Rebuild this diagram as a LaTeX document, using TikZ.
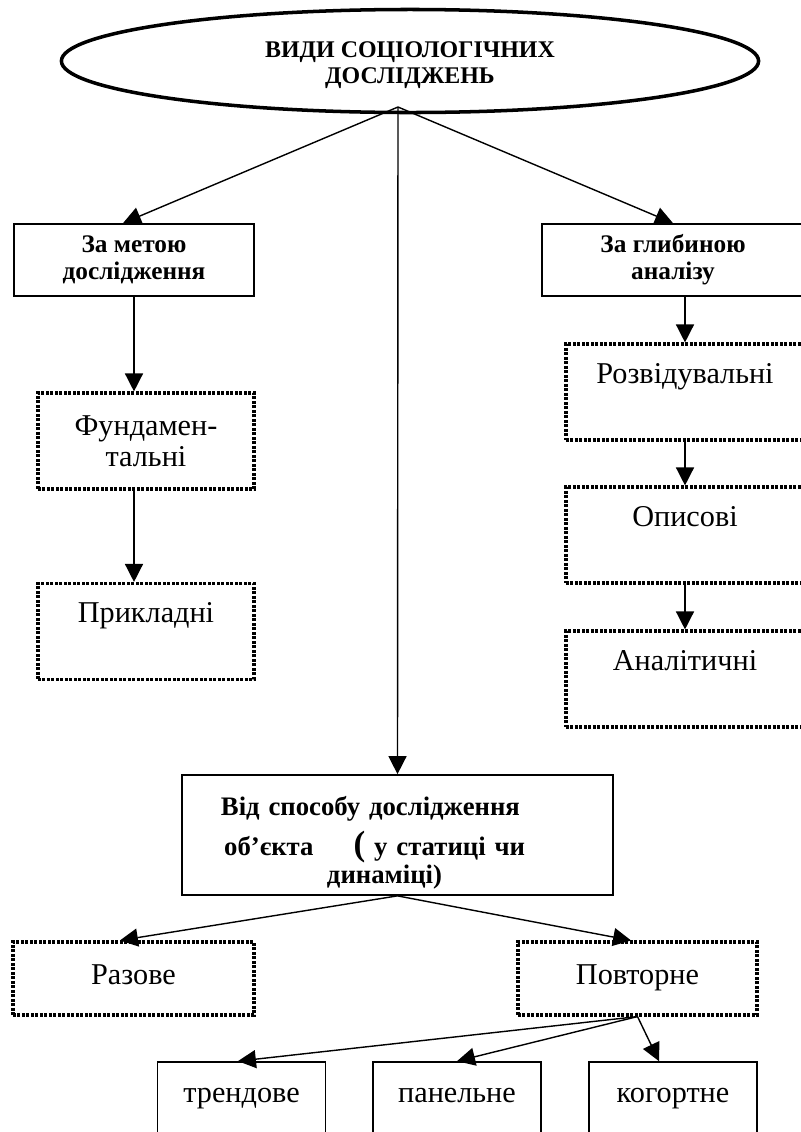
\documentclass[tikz,border=0pt]{standalone}
\usepackage{fontspec}
\setmainfont{Liberation Serif}
\usetikzlibrary{shapes.geometric,arrows.meta,positioning}

\begin{document}
\begin{tikzpicture}[
        x=0.025cm, y=-0.025cm,
        head/.style = {draw, ellipse, line width=2.5pt, inner sep=0pt, minimum width=17.425cm, minimum height=2.575cm, align=center, text height=1.2cm, text depth=0.1cm, font=\bfseries\fontsize{17}{18}\selectfont},
        solidbox/.style = {draw, rectangle, line width=1.2pt, inner sep=0pt},
        hdrbox/.style = {solidbox, minimum height=1.8cm, align=center, font=\bfseries\fontsize{18}{19}\selectfont},
        dotbox/.style = {draw, rectangle, line width=2.2pt, dash pattern=on 2pt off 1.2pt, inner sep=0pt, font=\fontsize{21.5}{22}\selectfont},
        tallbox/.style = {dotbox, text height=0.975cm, text depth=1.425cm},
        flatbox/.style = {dotbox, text height=1.05cm, text depth=0.775cm},
        lowbox/.style = {solidbox, minimum width=4.2cm, text height=1cm, text depth=1cm, font=\fontsize{21.5}{22}\selectfont},
        link/.style = {line width=1pt, -{Triangle[length=0.45cm, width=0.45cm]}},
        ]
        \useasboundingbox (0,0) rectangle (801,1132);
        \clip (0,0) rectangle (801,1132);
        \node[head] (root) at (410,61) {ВИДИ СОЦІОЛОГІЧНИХ\\ДОСЛІДЖЕНЬ};
        \coordinate (fork) at (398,107);
        \node[hdrbox, minimum width=6cm] (goal) at (134,260) {За метою\\дослідження};
        \node[hdrbox, minimum width=6.55cm] (depth) at (673,260) {За глибиною\\аналізу};
        \node[dotbox, minimum width=5.4cm, minimum height=2.4cm, align=center] (fund) at (146,441) {Фундамен-\\тальні};
        \node[tallbox, minimum width=5.4cm] (appl) at (146,631.5) {Прикладні};
        \node[tallbox, minimum width=5.95cm] (explor) at (685,392) {Розвідувальні};
        \node[tallbox, minimum width=5.95cm] (descr) at (685,535) {Описові};
        \node[tallbox, minimum width=5.95cm] (analyt) at (685,679) {Аналітичні};
        \node[solidbox, minimum width=10.775cm, text height=1cm, text depth=2cm, text width=8.825cm, inner xsep=0.975cm, align=left, font=\bfseries\fontsize{19}{20.5}\selectfont] (obj) at (397.5,835)
            {Від способу дослідження\\[6pt]\hspace*{0.08cm}об’єкта\hspace{1cm}{\fontsize{25}{20.5}\selectfont(} у статиці чи\\\hspace*{2.65cm}динаміці)};
        \node[flatbox, minimum width=6.025cm] (once) at (133.5,978.5) {Разове};
        \node[flatbox, minimum width=5.975cm] (again) at (637.5,978.5) {Повторне};
        \node[lowbox] (trend) at (241.5,1102) {трендове};
        \node[lowbox] (panel) at (457,1102) {панельне};
        \node[lowbox] (cohort) at (673,1102) {когортне};
        \draw[link] (fork) -- ([xshift=-0.275cm]goal.north);
        \draw[link] (fork) -- (depth.north);
        \draw[link] (fork) -- (obj.north);
        \draw[link] (goal.south) -- (goal.south |- fund.north);
        \draw[link] (goal.south |- fund.south) -- (goal.south |- appl.north);
        \draw[link] (depth.south -| explor.north) -- (explor.north);
        \draw[link] (explor.south) -- (descr.north);
        \draw[link] (descr.south) -- (analyt.north);
        \draw[link] (obj.south) -- ([xshift=-0.34cm]once.north);
        \draw[link] (obj.south) -- ([xshift=-0.16cm]again.north);
        \draw[link] (again.south) -- ([xshift=-0.09cm]trend.north);
        \draw[link] (again.south) -- (panel.north);
        \draw[link] (again.south) -- ([xshift=-0.35cm]cohort.north);
    \end{tikzpicture}
\end{document}
